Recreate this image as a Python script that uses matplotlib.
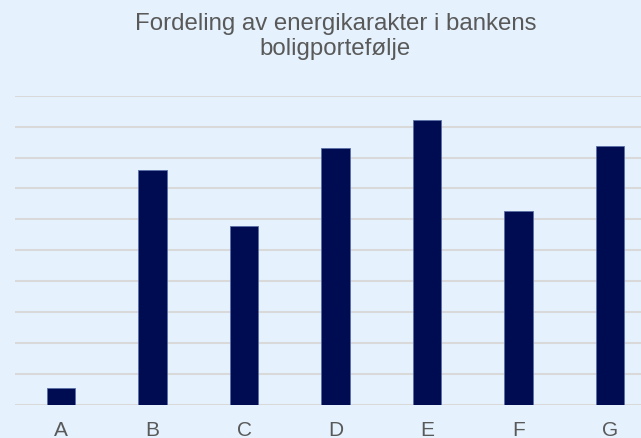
import matplotlib
matplotlib.use("Agg")
import matplotlib.pyplot as plt

categories = ["A", "B", "C", "D", "E", "F", "G"]
values = [0.54, 7.59, 5.79, 8.32, 9.22, 6.28, 8.36]

W, H = 641, 439
fig = plt.figure(figsize=(W / 100, H / 100), dpi=100)
bg = "#E5F2FD"
fig.patch.set_facecolor(bg)

left_px, right_px = 15.2, 655.9
bottom_px, top_px = 405.7, 96.7
ax = fig.add_axes([left_px / W, 1 - bottom_px / H,
                   (right_px - left_px) / W, (bottom_px - top_px) / H])
ax.set_facecolor(bg)

x = list(range(len(categories)))
ax.bar(x, values, width=0.31, color="#000C52", edgecolor="#5A6FA8",
       linewidth=0.6, zorder=3)
ax.set_xlim(-0.5, len(categories) - 0.5)
ax.set_ylim(0, 10)
ax.set_yticks(range(0, 11))
ax.yaxis.grid(True, color="#D9D9D9", linewidth=1.5, zorder=0)
ax.tick_params(axis="y", left=False, labelleft=False)
ax.tick_params(axis="x", length=0, pad=11, labelsize=15, labelcolor="#595959")
ax.set_xticks(x)
ax.set_xticklabels(categories, fontfamily="Liberation Sans")
for s in ax.spines.values():
    s.set_visible(False)

fig.text((left_px + right_px) / 2 / W, 1 - 13 / H,
         "Fordeling av energikarakter i bankens\nboligportefølje",
         ha="center", va="top", fontsize=17.3, color="#595959",
         fontfamily="Liberation Sans", linespacing=1.15)

fig.savefig("out.png", dpi=100, facecolor=bg)
